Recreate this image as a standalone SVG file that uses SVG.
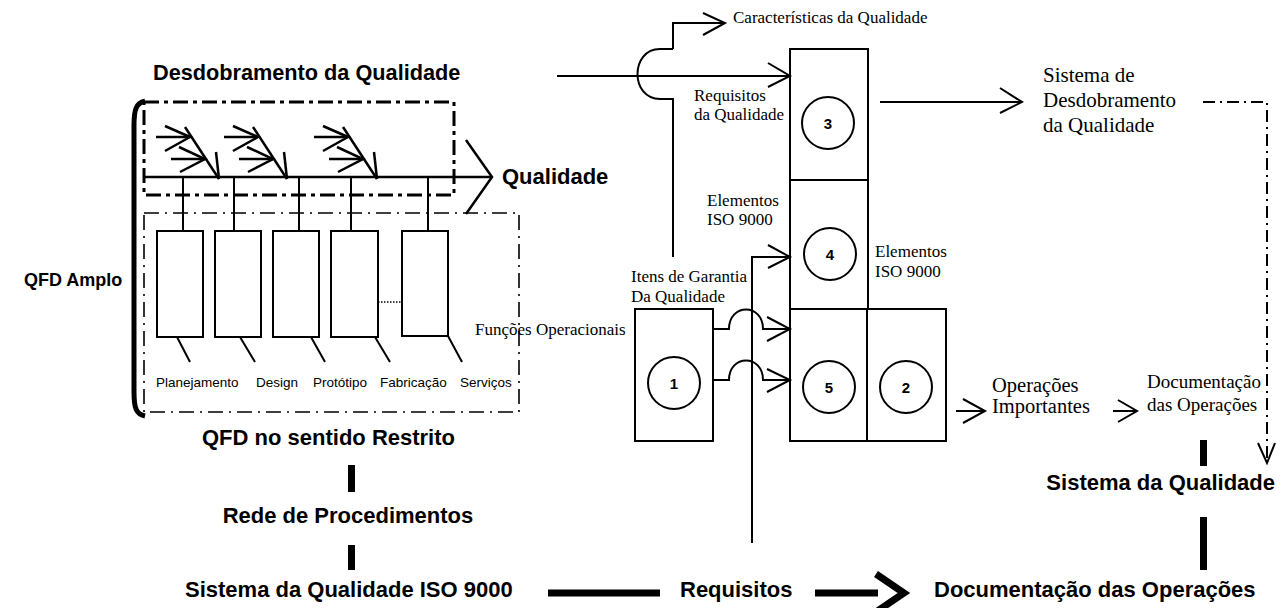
<svg xmlns="http://www.w3.org/2000/svg" width="1281" height="608" viewBox="0 0 1281 608">
<style>
.ln{fill:none;stroke:#000;stroke-width:2}
.th{fill:none;stroke:#000;stroke-width:2.5}
.box{fill:#fff;stroke:#000;stroke-width:2}
.dd1{fill:none;stroke:#000;stroke-width:3;stroke-dasharray:15 5 4 5}
.dd2{fill:none;stroke:#000;stroke-width:1.6;stroke-dasharray:15 6 2 6}
.dd3{fill:none;stroke:#000;stroke-width:2;stroke-dasharray:12 5 2 5}
.bar{fill:#000}
.b{font-family:"Liberation Sans",Arial,sans-serif;font-weight:bold;font-size:22px;fill:#000}
.s{font-family:"Liberation Sans",Arial,sans-serif;font-size:13.5px;fill:#000}
.t{font-family:"Liberation Serif","Times New Roman",serif;font-size:17px;fill:#000}
.tl{font-family:"Liberation Serif","Times New Roman",serif;font-size:21px;fill:#000}
.n{font-family:"Liberation Sans",Arial,sans-serif;font-weight:bold;font-size:15px;fill:#000;text-anchor:middle}
</style>
<defs>
<g id="bone">
<line x1="156" y1="137" x2="190" y2="137"/>
<polyline points="165,126 190,137 165,151"/>
<line x1="171" y1="159" x2="205" y2="159"/>
<polyline points="179,147 205,159 180,172"/>
<line x1="185" y1="127" x2="219" y2="179"/>
<line x1="216" y1="152" x2="219" y2="179"/>
</g>
</defs>

<g id="qfd-amplo">
<path d="M145,101 C136,103 134,110 134,125 L134,392 C134,408 136,414 145,416" fill="none" stroke="#000" stroke-width="5"/>
<text class="b" x="24" y="286" style="font-size:18px">QFD Amplo</text>
</g>

<g id="desdobramento">
<text class="b" x="153" y="80" style="font-size:21.7px">Desdobramento da Qualidade</text>
<rect class="dd1" x="144" y="102" width="310" height="93"/>
<g class="th">
<use href="#bone"/>
<use href="#bone" x="68"/>
<use href="#bone" x="158"/>
</g>
<line class="th" x1="143" y1="177" x2="492" y2="177"/>
<polyline class="th" points="466,140 492,177 466,214"/>
<text class="b" x="502" y="184">Qualidade</text>
</g>

<g id="restrito">
<rect class="dd2" x="144" y="213" width="375" height="199"/>
<g class="ln">
<line x1="183" y1="177" x2="183" y2="231"/>
<line x1="234" y1="177" x2="234" y2="231"/>
<line x1="299" y1="177" x2="299" y2="231"/>
<line x1="351" y1="177" x2="351" y2="231"/>
<line x1="428" y1="177" x2="428" y2="231"/>
</g>
<rect class="box" x="157" y="231" width="46" height="106"/>
<rect class="box" x="215" y="231" width="46" height="106"/>
<rect class="box" x="273" y="231" width="46" height="106"/>
<rect class="box" x="331" y="231" width="47" height="106"/>
<rect class="box" x="402" y="231" width="46" height="105"/>
<line x1="378" y1="302" x2="402" y2="302" stroke="#000" stroke-width="1.5" stroke-dasharray="1.5 1.5"/>
<g class="ln">
<line x1="177" y1="337" x2="190" y2="362"/>
<line x1="240" y1="337" x2="255" y2="362"/>
<line x1="311" y1="337" x2="325" y2="362"/>
<line x1="375" y1="337" x2="390" y2="362"/>
<line x1="448" y1="336" x2="462" y2="362"/>
</g>
<text class="s" x="156" y="387">Planejamento</text>
<text class="s" x="256" y="387">Design</text>
<text class="s" x="313" y="387">Protótipo</text>
<text class="s" x="380" y="387">Fabricação</text>
<text class="s" x="460" y="387">Serviços</text>
<text class="b" x="202" y="445">QFD no sentido Restrito</text>
</g>

<g id="bottom-left">
<rect class="bar" x="348" y="465" width="7" height="27"/>
<text class="b" x="348" y="523" text-anchor="middle">Rede de Procedimentos</text>
<rect class="bar" x="348" y="545" width="7" height="25"/>
<text class="b" x="185" y="597">Sistema da Qualidade ISO 9000</text>
</g>

<g id="node1"><rect class="box" x="635" y="309" width="78" height="132"/><circle class="box" cx="674" cy="383" r="26"/><text class="n" x="674" y="389">1</text></g>
<g id="node3"><rect class="box" x="790" y="49" width="78" height="131"/><circle class="box" cx="828" cy="123" r="26"/><text class="n" x="828" y="129">3</text></g>
<g id="node4"><rect class="box" x="790" y="180" width="78" height="129"/><circle class="box" cx="830" cy="254" r="26"/><text class="n" x="830" y="260">4</text></g>
<g id="node5"><rect class="box" x="790" y="309" width="77" height="132"/><circle class="box" cx="829" cy="387" r="26"/><text class="n" x="829" y="393">5</text></g>
<g id="node2"><rect class="box" x="867" y="309" width="79" height="132"/><circle class="box" cx="906" cy="387" r="26"/><text class="n" x="906" y="393">2</text></g>

<g id="connectors" class="ln">
<line x1="557" y1="76" x2="790" y2="76"/>
<polyline points="768,63 790,76 768,87"/>
<path d="M673,49 H660 C630,49 630,99 660,99 H673 V257"/>
<path d="M673,49 V23 H725"/>
<polyline points="703,13 725,23 703,35"/>
<line x1="880" y1="102" x2="1022" y2="102"/>
<polyline points="1000,88 1022,102 1000,113"/>
<path d="M752,543 V257 H790"/>
<polyline points="768,245 790,257 768,268"/>
<path d="M713,329 H729 C729,303 763,303 763,329 H790"/>
<polyline points="767,317 790,329 767,341"/>
<path d="M713,380 H729 C729,354 763,354 763,380 H790"/>
<polyline points="767,369 790,380 767,392"/>
<line x1="956" y1="411" x2="985" y2="411"/>
<polyline points="963,399 985,411 963,423"/>
<line x1="1113" y1="411" x2="1137" y2="411"/>
<polyline points="1118,400 1137,411 1118,422"/>
<path class="dd3" d="M1203,102 H1267 V463"/>
<polyline points="1258,443 1267,463 1275,443"/>
<line x1="548" y1="593" x2="660" y2="593" stroke-width="7"/>
<line x1="815" y1="593" x2="878" y2="593" stroke-width="7"/>
<polyline points="876,574 904,593 876,612" stroke-width="7"/>
</g>

<g id="labels">
<text class="t" x="733" y="23">Características da Qualidade</text>
<text class="t" x="694" y="101">Requisitos</text>
<text class="t" x="694" y="120">da Qualidade</text>
<text class="t" x="707" y="206">Elementos</text>
<text class="t" x="707" y="225">ISO 9000</text>
<text class="t" x="875" y="257">Elementos</text>
<text class="t" x="875" y="277">ISO 9000</text>
<text class="t" x="631" y="282">Itens de Garantia</text>
<text class="t" x="631" y="302">Da Qualidade</text>
<text class="t" x="475" y="335">Funções Operacionais</text>
<text class="tl" x="1043" y="82">Sistema de</text>
<text class="tl" x="1043" y="107">Desdobramento</text>
<text class="tl" x="1043" y="132">da Qualidade</text>
<text class="tl" x="992" y="392" style="font-size:20.5px">Operações</text>
<text class="tl" x="992" y="413" style="font-size:20.5px">Importantes</text>
<text class="t" x="1147" y="388" style="font-size:19px">Documentação</text>
<text class="t" x="1147" y="411" style="font-size:19px">das Operações</text>
</g>

<g id="bottom-right">
<rect class="bar" x="1200" y="440" width="7" height="26"/>
<text class="b" x="1275" y="490" text-anchor="end">Sistema da Qualidade</text>
<rect class="bar" x="1200" y="517" width="7" height="53"/>
<text class="b" x="680" y="597">Requisitos</text>
<text class="b" x="934" y="597">Documentação das Operações</text>
</g>
</svg>
